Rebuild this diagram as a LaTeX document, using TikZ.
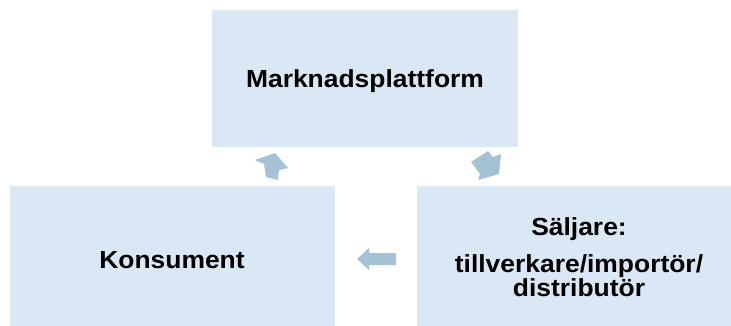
\documentclass[tikz,border=0pt]{standalone}
\usepackage{fontspec}
\setmainfont{Liberation Sans}[FakeStretch=1.07]
\usepackage{tikz}
\definecolor{boxblue}{RGB}{218,232,245}
\definecolor{arrowblue}{RGB}{165,194,213}
\tikzstyle{arr} = [fill=arrowblue,draw=none]

\begin{document}
\begin{tikzpicture}
		[
		x=1pt,y=-1pt,
		block/.style={
		fill=boxblue,
		rectangle,
		inner sep=0pt,
		align=center,
		font=\fontsize{24.7}{24}\selectfont\bfseries},
		oneline/.style={text height=17.7pt,text depth=0pt}
		]
		\useasboundingbox (0,0) rectangle (731,325);
		\clip (0,0) rectangle (731,325);
		\node[block,oneline,minimum width=306pt,minimum height=137pt](platform) at (365,78.5) {Marknadsplattform};
		\node[block,oneline,minimum width=325pt,minimum height=148pt](consumer) at (172,259.5) {Konsument};
		\node[block,minimum width=324pt,minimum height=144pt](seller) at (579,257.5) {Säljare:\\[12.7pt] tillverkare/importör/\\ distributör};
		% pilar mellan rutorna
		\fill[arr] (275,153) -- (288,168) -- (279,170) -- (278,180) -- (266,177) -- (264,164) -- (255,160) -- cycle;
		\fill[arr] (488,151) -- (493,157) -- (501,154) -- (499,174) -- (478,180) -- (480,174) -- (471,162) -- cycle;
		\fill[arr] (357,259) -- (369,248) -- (369,253) -- (396,253) -- (396,265) -- (369,265) -- (369,270) -- cycle;
		\end{tikzpicture}
\end{document}
